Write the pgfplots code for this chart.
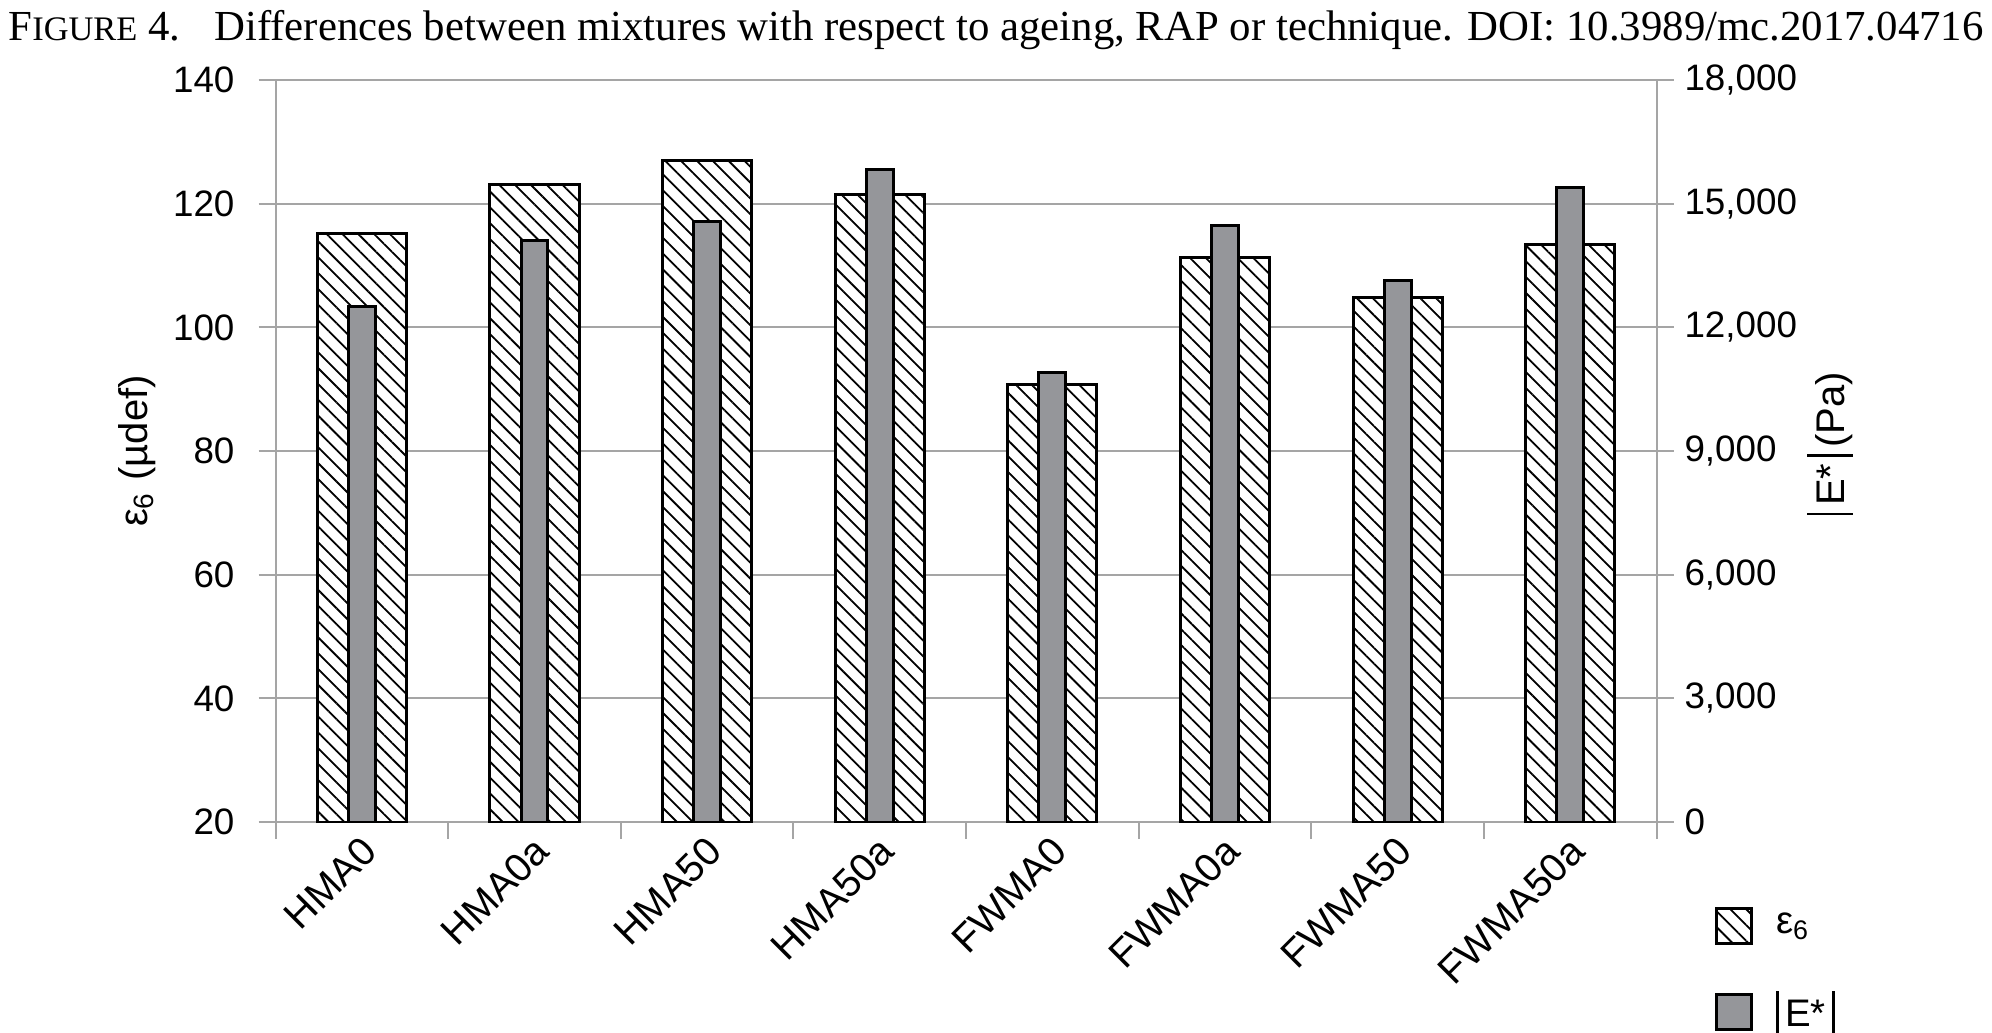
\documentclass[border=0pt]{standalone}
\usepackage{fontspec}
\setmainfont{Liberation Sans}
\newfontfamily\titlefont{Liberation Serif}
\usepackage{pgfplots}
\pgfplotsset{compat=1.18}
\usetikzlibrary{patterns.meta}
\definecolor{gridgray}{RGB}{165,165,165}
\definecolor{bargray}{RGB}{149,150,154}
\newcommand\tbar{\rule[-0.22em]{0.07em}{1.15em}}
\pgfplotsset{
  sqlegend/.style={legend image code/.code={\draw[##1] (0pt,-4.4pt) rectangle (8.8pt,4.4pt);}},
  hatch/.style={draw=black, line width=0.75pt, preaction={fill=white},
    pattern={Lines[angle=-45,distance=2.8pt,line width=0.45pt]}},
  common/.style={
    scale only axis, width=345.25pt, height=185.5pt,
    at={(0,0)}, anchor=south west,
    xmin=-0.5, xmax=7.5,
    axis line style={gridgray, line width=0.5pt},
    tick style={gridgray, line width=0.5pt},
    tick align=outside, major tick length=4.25pt, minor tick length=4.25pt,
    tick label style={font=\fontsize{9.2}{11}\selectfont},
    label style={font=\fontsize{9}{11}\selectfont},
    /pgf/number format/assume math mode=true,
  }
}
\pgfplotstableread{
x eps E
0 115.2 12500
1 123.1 14110
2 127.0 14560
3 121.5 15820
4 90.7 10900
5 111.3 14470
6 104.8 13130
7 113.4 15400
}\datatable
\begin{document}
\begin{tikzpicture}
\path[use as bounding box] (-68.9pt,-52.5pt) rectangle (429.1pt,205.5pt);
\node[anchor=base, font=\titlefont\fontsize{10.7}{12}\selectfont, inner sep=0pt] at (180.1pt,195.4pt)
  {F{\fontsize{8.6}{10}\selectfont IGURE} 4.\hspace{0.8em}Differences between mixtures with respect to ageing, RAP or technique. DOI: 10.3989/mc.2017.04716};
\begin{axis}[common,
  ymin=20, ymax=140, ytick={20,40,...,140},
  ymajorgrids, grid style={gridgray, line width=0.5pt},
  axis x line*=bottom, axis y line*=left,
  xtick={0,...,7},
  xticklabels={HMA0,HMA0a,HMA50,HMA50a,FWMA0,FWMA0a,FWMA50,FWMA50a},
  major x tick style={draw=none},
  minor xtick={-0.5,0.5,...,7.5},
  xticklabel style={rotate=45, anchor=north east, inner sep=1pt, xshift=1.5pt, yshift=2.5pt,
    font=\fontsize{9.9}{11}\selectfont},
  yticklabel style={xshift=-2.5pt},
  ylabel={ε\textsubscript{6} (µdef)},
  every axis y label/.style={at={(axis description cs:-0.1005,0.5)}, rotate=90, anchor=center},
]
\addplot[ybar, bar width=0.516, bar shift=0, hatch] table[x=x, y=eps] {\datatable};
\end{axis}
\begin{axis}[common,
  ymin=0, ymax=18000, ytick={0,3000,...,18000},
  axis x line=none, axis y line*=right,
  scaled y ticks=false,
  yticklabel style={/pgf/number format/1000 sep={,}, xshift=-0.8pt},
  ylabel={\tbar\,E*\,\tbar\,(Pa)},
  every axis y label/.style={at={(axis description cs:1.1255,0.51)}, rotate=90, anchor=center},
  legend style={at={(axis description cs:1.0415,-0.110)}, anchor=north west, draw=none, fill=none,
    inner sep=0pt, row sep=9pt, font=\fontsize{9.6}{11}\selectfont,
    /tikz/every even column/.append style={column sep=0pt},
    /tikz/every odd column/.append style={column sep=3.8pt}},
  legend cell align=left,
]
\addlegendimage{sqlegend, hatch}
\addlegendentry{ε\textsubscript{6}}
\addplot[ybar, bar width=0.156, bar shift=0, draw=black, line width=0.75pt, fill=bargray, sqlegend] table[x=x, y=E] {\datatable};
\addlegendentry{\tbar\,E*\,\tbar}
\end{axis}
\end{tikzpicture}
\end{document}
